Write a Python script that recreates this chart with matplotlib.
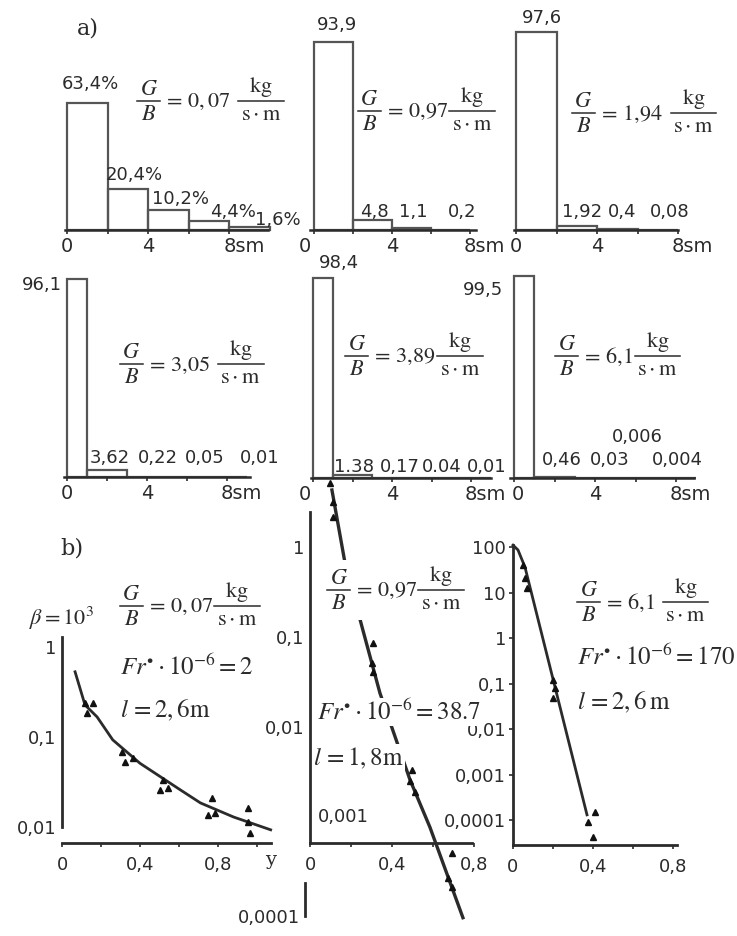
import numpy as np
import matplotlib
matplotlib.use('Agg')
import matplotlib.pyplot as plt
from matplotlib.lines import Line2D
from matplotlib.patches import Rectangle

plt.rcParams['font.family'] = ['DejaVu Sans']
plt.rcParams['mathtext.fontset'] = 'stix'

W, H = 737, 936
INK = '#2b2b2b'
EDGE = '#555555'

# ---- a) distribution of deposit over length (percent per interval) ----
a1_edges = [0, 2, 4, 6, 8, 10]
a1_vals = [63.4, 20.4, 10.2, 4.4, 1.6]
a1_labels = ['63,4%', '20,4%', '10,2%', '4,4%', '1,6%']

a2_edges = [0, 2, 4, 6, 8]
a2_vals = [93.9, 4.8, 1.1, 0.2]
a2_labels = ['93,9', '4,8', '1,1', '0,2']

a3_edges = [0, 2, 4, 6, 8]
a3_vals = [97.6, 1.92, 0.4, 0.08]
a3_labels = ['97,6', '1,92', '0,4', '0,08']

a4_edges = [0, 1, 3, 5, 7, 9]
a4_vals = [96.1, 3.62, 0.22, 0.05, 0.01]
a4_labels = ['96,1', '3,62', '0,22', '0,05', '0,01']

a5_edges = [0, 1, 3, 5, 7, 9]
a5_vals = [98.4, 1.38, 0.17, 0.04, 0.01]
a5_labels = ['98,4', '1.38', '0,17', '0.04', '0,01']

a6_edges = [0, 1, 3, 5, 7, 9]
a6_vals = [99.5, 0.46, 0.03, 0.006, 0.004]
a6_labels = ['99,5', '0,46', '0,03', '0,006', '0,004']

# ---- b) beta vs relative length y ----
b1_curve_x = [0.067, 0.118, 0.18, 0.26, 0.40, 0.605, 0.71, 0.88, 1.07]
b1_curve_y = [0.53, 0.227, 0.167, 0.093, 0.051, 0.026, 0.0185, 0.0129, 0.0093]
b1_pts_x = [0.118, 0.159, 0.128, 0.308, 0.364, 0.323, 0.518, 0.503, 0.544,
            0.769, 0.749, 0.785, 0.954, 0.954, 0.964]
b1_pts_y = [0.239, 0.239, 0.185, 0.068, 0.058, 0.053, 0.033, 0.026, 0.027,
            0.021, 0.0136, 0.0143, 0.0163, 0.0114, 0.0086]

b2_curve_x = [0.107, 0.171, 0.254, 0.341, 0.488, 0.585, 0.746]
b2_curve_y = [4.3, 0.66, 0.129, 0.0239, 0.00258, 0.00077, 7.6e-5]
b2_pts_x = [0.098, 0.112, 0.112, 0.307, 0.302, 0.307, 0.498, 0.488, 0.512,
            0.693, 0.673, 0.693]
b2_pts_y = [5.1, 3.16, 2.15, 0.086, 0.051, 0.041, 0.0033, 0.0025, 0.0019,
            0.0004, 0.00021, 0.000167]

b3_curve_x = [0.0, 0.025, 0.06, 0.37]
b3_curve_y = [110, 86, 36, 1.3e-4]
b3_pts_x = [0.05, 0.06, 0.07, 0.2, 0.21, 0.2, 0.41, 0.375, 0.40]
b3_pts_y = [40, 21, 12.6, 0.12, 0.079, 0.048, 1.5e-4, 9e-5, 4.3e-5]

fig = plt.figure(figsize=(W / 100, H / 100), dpi=100)
fig.patch.set_facecolor('white')
renderer = fig.canvas.get_renderer()


def box(x0, y0, x1, y1):
    ax = fig.add_axes([x0 / W, 1 - y1 / H, (x1 - x0) / W, (y1 - y0) / H])
    ax.patch.set_alpha(0)
    return ax


def ftext(x, y, s, size=13, ha='center', va='center', white=False, **kw):
    if white:
        kw['bbox'] = dict(fc='white', ec='none', pad=1)
    return fig.text(x / W, 1 - y / H, s, fontsize=size, ha=ha, va=va, color=INK,
                    zorder=5, **kw)


def text_w(t):
    return t.get_window_extent(renderer).width


def stacked(x, yc, num, den, size):
    # numerator over a rule over denominator, left edge at x
    tn = ftext(x, yc - 2, num, size=size, va='bottom')
    td = ftext(x, yc + 3, den, size=size, va='top')
    w = max(text_w(tn), text_w(td)) + 5
    tn.set_x((x + w / 2) / W)
    td.set_x((x + w / 2) / W)
    fig.add_artist(Line2D([x / W, (x + w) / W], [1 - yc / H] * 2, color=INK,
                          lw=1.1, zorder=6))
    return x + w


def gb_formula(x, yc, value, gap=8, size=16, white=False):
    x_start = x
    x = stacked(x, yc, r'$G$', r'$B$', size)
    t = ftext(x + 3, yc + 1, r'$=\,' + value + '$', size=size, ha='left')
    x = x + 3 + text_w(t) + gap
    x_end = stacked(x, yc, r'$\mathrm{kg}$', r'$\mathrm{s}\cdot\mathrm{m}$', size)
    if white:
        fig.add_artist(Rectangle(((x_start - 3) / W, 1 - (yc + 30) / H),
                                 (x_end - x_start + 6) / W, 60 / H,
                                 transform=fig.transFigure, fc='white', ec='none',
                                 zorder=4))


def bar_panel(x0, ya, sx, sy, edges, vals, xmin, xmax, zero_dx=0):
    ax = box(x0 + xmin * sx, ya - 102 * sy, x0 + xmax * sx, ya)
    ax.set_xlim(xmin, xmax)
    ax.set_ylim(0, 102)
    ax.bar(edges[:-1], vals, width=np.diff(edges), align='edge', fill=False,
           edgecolor=EDGE, linewidth=1.6, clip_on=False)
    for s in ['top', 'right', 'left']:
        ax.spines[s].set_visible(False)
    ax.spines['bottom'].set_color(INK)
    ax.spines['bottom'].set_linewidth(1.8)
    ax.set_yticks([])
    ax.set_xticks([0, 2, 4, 6, 8], ['', '', '4', '', ''])
    ax.tick_params(axis='x', length=3, width=1.2, color=INK, pad=2, labelsize=14,
                   labelcolor=INK)
    ax.annotate('0', xy=(0, 0), xytext=(zero_dx * 0.72, -5), textcoords='offset points',
                ha='center', va='top', fontsize=14, color=INK)
    ax.annotate('8sm', xy=(8, 0), xytext=(-4.5, -5), textcoords='offset points',
                ha='left', va='top', fontsize=14, color=INK)
    return ax


# a) histograms
bar_panel(67, 230, 20.3, 2.0, a1_edges, a1_vals, -0.1, 9.9)
bar_panel(314, 230, 19.5, 2.0, a2_edges, a2_vals, -0.2, 8.3, zero_dx=-9)
bar_panel(516, 230, 20.25, 2.03, a3_edges, a3_vals, -0.1, 8.0)
bar_panel(67, 477, 20.0, 2.06, a4_edges, a4_vals, -0.15, 9.15)
bar_panel(313, 478, 19.75, 2.03, a5_edges, a5_vals, -0.1, 9.0, zero_dx=-8)
bar_panel(514, 478, 20.25, 2.03, a6_edges, a6_vals, -0.2, 8.9, zero_dx=4)

for (x, y), s in zip([(90, 84), (134, 175), (180, 199), (233, 212), (278, 220)], a1_labels):
    ftext(x, y, s)
for (x, y), s in zip([(337, 25), (374, 212), (413, 212), (462, 212)], a2_labels):
    ftext(x, y, s)
for (x, y), s in zip([(542, 18), (582, 212), (622, 212), (670, 212)], a3_labels):
    ftext(x, y, s)
ftext(62, 285, a4_labels[0], ha='right')
for (x, y), s in zip([(110, 458), (158, 458), (205, 458), (260, 458)], a4_labels[1:]):
    ftext(x, y, s)
for (x, y), s in zip([(339, 263), (354, 467), (400, 467), (442, 467), (487, 467)], a5_labels):
    ftext(x, y, s)
for (x, y), s in zip([(483, 290), (562, 460), (610, 460), (637, 437), (677, 460)], a6_labels):
    ftext(x, y, s)

gb_formula(137, 101, '0,07')
gb_formula(358, 111, '0{,}97', gap=1)
gb_formula(572, 113, '1{,}94')
gb_formula(120, 364, '3{,}05')
gb_formula(345, 356, '3{,}89', gap=2)
gb_formula(555, 356, '6{,}1', gap=2)

ftext(88, 28, 'a)', size=16, family=['DejaVu Serif'])
ftext(72, 548, 'b)', size=16, family=['DejaVu Serif'])


# b) semilog plots
def log_panel(ax, xmax_axis):
    ax.set_yscale('log')
    for s in ['top', 'right']:
        ax.spines[s].set_visible(False)
    for s in ['left', 'bottom']:
        ax.spines[s].set_color(INK)
        ax.spines[s].set_linewidth(2.0)
    ax.spines['bottom'].set_bounds(0, xmax_axis)
    ax.minorticks_off()
    ax.tick_params(axis='both', color=INK, labelcolor=INK, labelsize=13)
    ax.tick_params(axis='x', length=3, width=1.2, pad=6)
    ax.tick_params(axis='y', length=0, pad=4)


def trend(ax, cx, cy, px, py, lw=2.0):
    ax.plot(cx, cy, color=INK, lw=lw, clip_on=False, zorder=3)
    ax.plot(px, py, ls='none', marker='^', ms=4.5, color='#111111', clip_on=False, zorder=4)


# b1: x 0 -> 62px, 195px per unit; 0.1 -> 737px, 90px per decade
ax1 = box(62, 637, 62 + 1.12 * 195, 843)
ax1.set_xlim(0, 1.12)
ax1.set_ylim(10 ** -2.178, 10 ** 0.111)
log_panel(ax1, 1.07)
ax1.spines['left'].set_bounds(0.01, 10 ** 0.111)
ax1.set_yticks([1, 0.1, 0.01], ['1', '0,1', '0,01'])
ax1.set_xticks([0, 0.2, 0.4, 0.6, 0.8, 1.0], ['0', '', '0,4', '', '0,8', ''])
trend(ax1, b1_curve_x, b1_curve_y, b1_pts_x, b1_pts_y)
ax1.annotate('y', xy=(1.07, 0), xycoords=('data', 'axes fraction'), xytext=(0, -6),
             textcoords='offset points', ha='center', va='top', fontsize=14, color=INK,
             family=['DejaVu Serif'])

# b2: x 0 -> 310px, 205px per unit; 1 -> 547px, 90px per decade
ax2 = box(310, 512, 310 + 0.86 * 205, 843)
ax2.set_xlim(0, 0.86)
ax2.set_ylim(10 ** -3.289, 10 ** 0.389)
log_panel(ax2, 0.79)
ax2.set_yticks([1, 0.1, 0.01], ['1', '0,1', '0,01'])
ax2.set_xticks([0, 0.2, 0.4, 0.6, 0.8], ['0', '', '0,4', '', '0,8'])
trend(ax2, b2_curve_x, b2_curve_y, b2_pts_x, b2_pts_y, lw=2.4)
ax2.text(0.04, 1e-3, '0,001', ha='left', va='center', fontsize=13, color=INK)
ax2.text(-0.05, 7.6e-5, '0,0001', ha='right', va='center', fontsize=13, color=INK,
         clip_on=False)
ax2.plot([-0.025, -0.025], [10 ** -3.73, 10 ** -4.1], color=INK, lw=2.0, clip_on=False)

# b3: x 0 -> 513px, 200px per unit; 100 -> 547px, 45.5px per decade
ax3 = box(513, 545, 513 + 0.86 * 200, 845)
ax3.set_xlim(0, 0.86)
ax3.set_ylim(10 ** -4.549, 10 ** 2.044)
log_panel(ax3, 0.82)
ax3.set_yticks([100, 10, 1, 0.1, 0.01, 0.001, 0.0001],
               ['100', '10', '1', '0,1', '0,01', '0,001', '0,0001'])
ax3.tick_params(axis='y', length=3, width=1.2, pad=2)
ax3.set_xticks([0, 0.2, 0.4, 0.6, 0.8], ['0', '', '0,4', '', '0,8'])
trend(ax3, b3_curve_x, b3_curve_y, b3_pts_x, b3_pts_y)

ftext(62, 618, r'$\beta = 10^{3}$', size=16)

gb_formula(120, 606, '0,07', gap=1)
ftext(120, 667, r'$Fr^{\bullet}\cdot 10^{-6} = 2$', size=18, ha='left')
ftext(120, 710, r'$l\,= 2,6\mathrm{m}$', size=18, ha='left')

gb_formula(327, 590, '0{,}97', gap=1, white=True)
ftext(317, 712, r'$Fr^{\bullet}\cdot 10^{-6} = 38.7$', size=18, ha='left', white=True)
ftext(313, 758, r'$l\,= 1,8\mathrm{m}$', size=18, ha='left', white=True)

gb_formula(577, 602, '6{,}1')
ftext(577, 657, r'$Fr^{\bullet}\cdot 10^{-6} = 170$', size=18, ha='left')
ftext(577, 702, r'$l\,= 2,6\,\mathrm{m}$', size=18, ha='left')

fig.savefig('out.png', dpi=100, facecolor='white')
